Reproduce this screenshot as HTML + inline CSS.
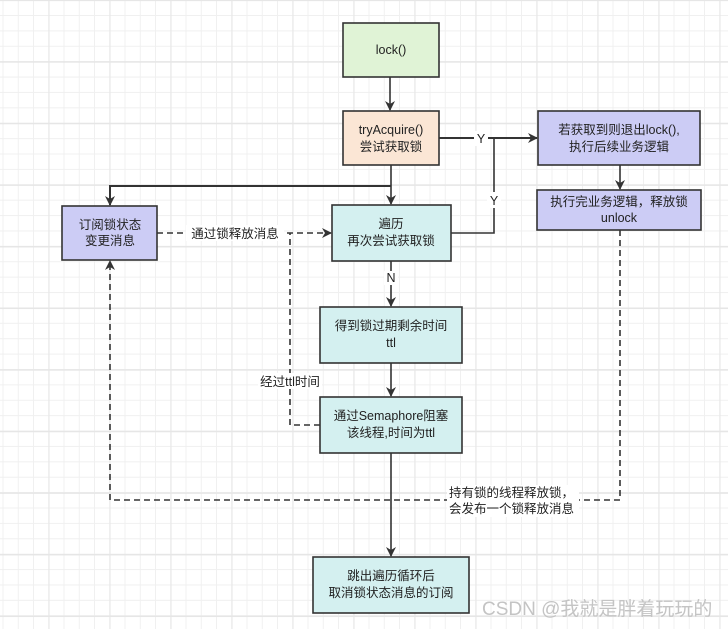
<!DOCTYPE html>
<html><head><meta charset="utf-8"><style>
html,body{margin:0;padding:0}
body{width:728px;height:629px;position:relative;overflow:hidden;background:#fff;
font-family:"Liberation Sans","Noto Sans CJK SC",sans-serif;}
.grid{position:absolute;inset:0;
background-image:
linear-gradient(to right,#e6e6e6 1.5px,transparent 1.5px),
linear-gradient(to bottom,#e6e6e6 1.5px,transparent 1.5px),
linear-gradient(to right,#f0f0f0 1px,transparent 1px),
linear-gradient(to bottom,#f0f0f0 1px,transparent 1px);
background-size:61px 61.6px,61px 61.6px,15.25px 15.4px,15.25px 15.4px;
background-position:48px 0px,48px -0.4px,2.5px -0.4px,2.5px -0.4px;}
svg{position:absolute;left:0;top:0}
text{font-family:"Liberation Sans","Noto Sans CJK SC",sans-serif;font-size:12.5px;fill:#222}
</style></head><body>
<div class="grid"></div>
<svg width="728" height="629" viewBox="0 0 728 629">
<defs><marker id="a" markerWidth="10" markerHeight="10" refX="9" refY="5" orient="auto" markerUnits="userSpaceOnUse"><path d="M0,0 L10,5 L0,10 L3,5 Z" fill="#333"/></marker></defs>
<g stroke="#333" stroke-width="1.6" fill="none">
<rect x="343" y="23" width="96" height="54" fill="#e0f3d6"/>
<rect x="343" y="111" width="96" height="54" fill="#fbe6d5"/>
<rect x="538" y="111" width="162" height="54" fill="#ccccf5"/>
<rect x="537" y="190" width="164" height="40" fill="#ccccf5"/>
<rect x="62" y="206" width="95" height="54" fill="#ccccf5"/>
<rect x="332" y="205" width="119" height="56" fill="#d4f0f0"/>
<rect x="320" y="307" width="142" height="56" fill="#d4f0f0"/>
<rect x="320" y="397" width="142" height="56" fill="#d4f0f0"/>
<rect x="313" y="557" width="156" height="56" fill="#d4f0f0"/>
<path d="M390,77 V110" marker-end="url(#a)"/>
<path d="M439,138 H537" marker-end="url(#a)" stroke-width="2"/>
<path d="M451,233 H494 V138"/>
<path d="M620,165 V189" marker-end="url(#a)"/>
<path d="M391,165 V204" marker-end="url(#a)"/>
<path d="M391,186 H110 V205" marker-end="url(#a)" stroke-width="2"/>
<path d="M391,261 V306" marker-end="url(#a)"/>
<path d="M391,363 V396" marker-end="url(#a)"/>
<path d="M391,453 V556" marker-end="url(#a)"/>
<g stroke-dasharray="6,4">
<path d="M157,233 H331" marker-end="url(#a)"/>
<path d="M320,425 H290 V233"/>
<path d="M620,230 V500 H110 V261" marker-end="url(#a)"/>
</g>
</g>
<rect x="186" y="225" width="98" height="16" fill="#fff"/>
<rect x="474" y="131" width="14" height="15" fill="#fff"/>
<rect x="487" y="192" width="14" height="16" fill="#fff"/>
<rect x="384" y="271" width="14" height="14" fill="#fff"/>
<rect x="258" y="373" width="64" height="16" fill="#fff"/>
<rect x="447" y="485" width="132" height="32" fill="#fff"/>
<g text-anchor="middle">
<text x="391" y="54">lock()</text>
<text x="391" y="134">tryAcquire()</text>
<text x="391" y="151">尝试获取锁</text>
<text x="619" y="134">若获取到则退出lock(),</text>
<text x="619" y="151">执行后续业务逻辑</text>
<text x="619" y="206">执行完业务逻辑，释放锁</text>
<text x="619" y="222">unlock</text>
<text x="110" y="229">订阅锁状态</text>
<text x="110" y="245">变更消息</text>
<text x="391" y="228">遍历</text>
<text x="391" y="245">再次尝试获取锁</text>
<text x="391" y="330">得到锁过期剩余时间</text>
<text x="391" y="347">ttl</text>
<text x="391" y="420">通过Semaphore阻塞</text>
<text x="391" y="437">该线程,时间为ttl</text>
<text x="391" y="580">跳出遍历循环后</text>
<text x="391" y="597">取消锁状态消息的订阅</text>
<text x="235" y="238">通过锁释放消息</text>
<text x="481" y="143">Y</text>
<text x="494" y="205">Y</text>
<text x="391" y="282">N</text>
<text x="290" y="386">经过ttl时间</text>
</g>
<text x="449" y="497">持有锁的线程释放锁，</text>
<text x="449" y="513">会发布一个锁释放消息</text>
<text x="482" y="615" style="font-size:19px;fill:#c4c4c4">CSDN @我就是胖着玩玩的</text>
</svg>
</body></html>
